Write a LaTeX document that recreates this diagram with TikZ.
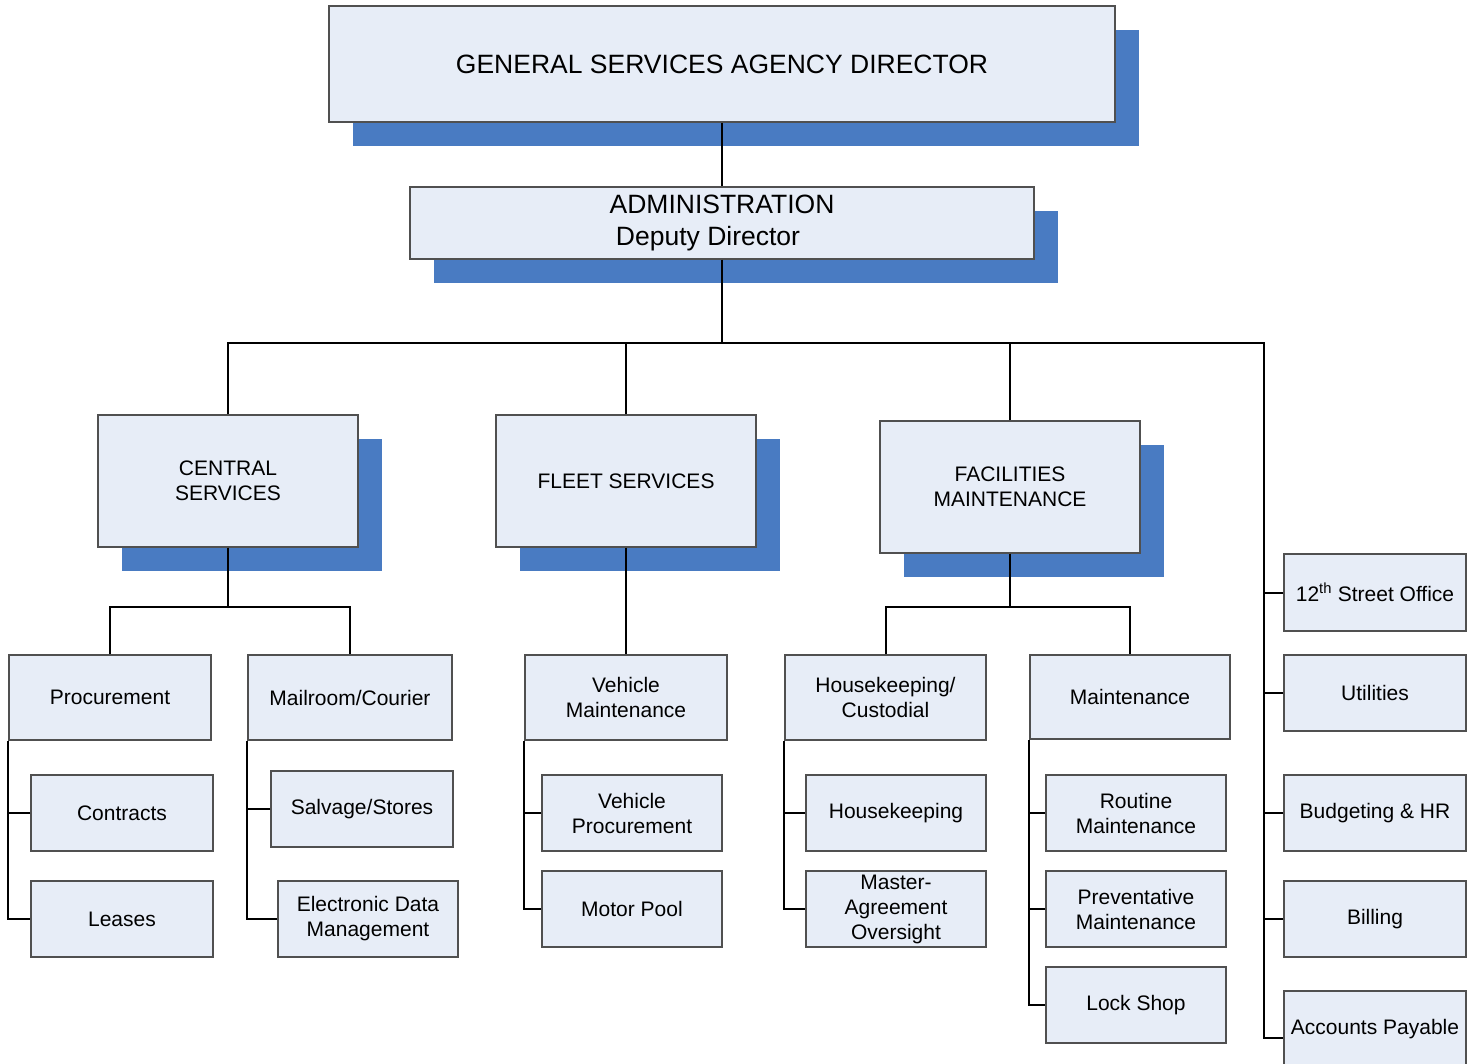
\documentclass[tikz,border=0pt]{standalone}
\usepackage{fontspec}
\setmainfont{Liberation Sans}
\usetikzlibrary{positioning, shadows}
\definecolor{boxfill}{RGB}{231,237,247}
\definecolor{boxedge}{RGB}{80,80,80}
\definecolor{shadowblue}{RGB}{73,123,194}

\begin{document}
\begin{tikzpicture}[
  x=1pt, y=-1pt,
  unit/.style={draw=boxedge, fill=boxfill, line width=1.2pt,
               align=center, inner sep=2pt,
               font=\fontsize{21}{25}\selectfont},
  topunit/.style={unit, font=\fontsize{26.5}{32}\selectfont,
                  general shadow={fill=shadowblue, shadow xshift=24pt,
                                  shadow yshift=-24pt}},
  division/.style={unit, minimum width=260pt, minimum height=132pt,
                   general shadow={fill=shadowblue, shadow xshift=24pt,
                                   shadow yshift=-24pt}},
  section/.style={unit, minimum height=85pt},
  team/.style={unit, minimum width=180pt, minimum height=76pt},
  link/.style={line width=2pt, black},
]
\clip (0,0) rectangle (1475,1064);

% top of the agency
\node[topunit, minimum width=786pt, minimum height=116pt] (dir) at (722,64)
  {GENERAL SERVICES AGENCY DIRECTOR};
\node[topunit, minimum width=624pt, minimum height=72pt] (admin) at (722,223)
  {ADMINISTRATION\\Deputy Director\hspace*{28pt}};

% divisions
\node[division] (central) at (228,481) {CENTRAL\\SERVICES};
\node[division] (fleet) at (626,481) {FLEET SERVICES};
\node[division] (facil) at (1010,487) {FACILITIES\\MAINTENANCE};

% central services
\node[section, minimum width=202pt] (proc) at (110,697.5) {Procurement};
\node[section, minimum width=204pt] (mail) at (350,697.5) {Mailroom/Courier};
\node[team, minimum width=182pt] (contracts) at (122,813) {Contracts};
\node[team, minimum width=182pt] (leases) at (122,919) {Leases};
\node[team, minimum width=182pt] (salvage) at (362,809) {Salvage/Stores};
\node[team] (edm) at (368,919) {Electronic Data\\Management};

% fleet services
\node[section, minimum width=202pt] (vmaint) at (626,697.5) {Vehicle\\Maintenance};
\node[team] (vproc) at (632,813) {Vehicle\\Procurement};
\node[team] (motor) at (632,909) {Motor Pool};

% facilities maintenance
\node[section, minimum width=201pt] (hkcust) at (885.5,697.5) {Housekeeping/\\Custodial};
\node[section, minimum width=200pt, minimum height=84pt] (maint) at (1130,697) {Maintenance};
\node[team] (hk) at (896,813) {Housekeeping};
\node[team] (master) at (896,909) {Master-\\Agreement\\Oversight};
\node[team] (routine) at (1136,813) {Routine\\Maintenance};
\node[team] (prevent) at (1136,909) {Preventative\\Maintenance};
\node[team] (lock) at (1136,1005) {Lock Shop};

% administration staff
\node[team, minimum width=182pt, minimum height=77pt] (street) at (1375,592.5)
  {12\textsuperscript{th} Street Office};
\node[team, minimum width=182pt] (util) at (1375,693) {Utilities};
\node[team, minimum width=182pt] (budget) at (1375,813) {Budgeting \& HR};
\node[team, minimum width=182pt] (billing) at (1375,919) {Billing};
\node[team, minimum width=182pt] (payable) at (1375,1029) {Accounts Payable};

% main lines
\coordinate (bus) at (1264,343);
\draw[link] (dir) -- (admin);
\draw[link] (admin.south) -- (admin.south |- bus);
\draw[link] (central.north) |- (bus) |- ([yshift=-9pt]payable.west);
\draw[link] (fleet.north) -- (fleet.north |- bus);
\draw[link] (facil.north) -- (facil.north |- bus);
\foreach \n in {street,util,budget,billing}
  \draw[link] (\n.west) -- (\n.west -| bus);

% central services lines
\draw[link] (central.south) -- ++(0,59) coordinate (cbus);
\draw[link] (proc.north) |- (cbus) -| (mail.north);
\draw[link] (proc.south west) |- (leases.west);
\draw[link] (contracts.west) -- (contracts.west -| proc.west);
\draw[link] (mail.south west) |- (edm.west);
\draw[link] (salvage.west) -- (salvage.west -| mail.west);

% fleet services lines
\draw[link] (fleet) -- (vmaint);
\draw[link] (vmaint.south west) |- (motor.west);
\draw[link] (vproc.west) -- (vproc.west -| vmaint.west);

% facilities lines
\draw[link] (facil.south) -- ++(0,53) coordinate (fbus);
\draw[link] (hkcust.north) |- (fbus) -| (maint.north);
\draw[link] (hkcust.south west) |- (master.west);
\draw[link] (hk.west) -- (hk.west -| hkcust.west);
\draw[link] (maint.south west) |- (lock.west);
\foreach \n in {routine,prevent}
  \draw[link] (\n.west) -- (\n.west -| maint.west);
\end{tikzpicture}
\end{document}
